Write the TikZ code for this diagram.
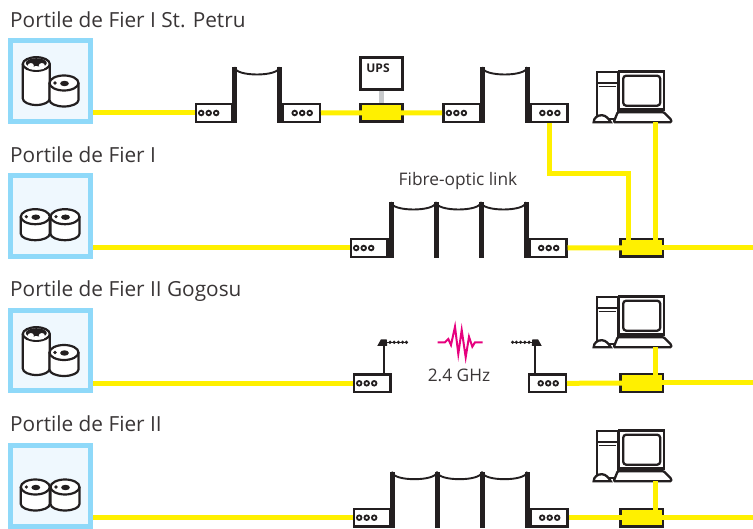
\documentclass[tikz,border=0pt]{standalone}
\usepackage{xcolor}
\usepackage{fontspec}
\setmainfont{Open Sans}
\usetikzlibrary{positioning,calc}
\definecolor{cableyellow}{HTML}{FFF000}
\definecolor{siteblue}{HTML}{8FD9F9}
\definecolor{sitefill}{HTML}{EFF8FE}
\definecolor{inkblack}{HTML}{231F20}
\definecolor{signalpink}{HTML}{E6007E}
\definecolor{upsgrey}{HTML}{C8CACC}
\tikzset{
    sitebox/.style={
        rectangle,
        draw=siteblue,
        fill=sitefill,
        line width=5pt,
        minimum size=80.5pt,
        inner sep=0pt
    },
    sitelabel/.style={
        anchor=base west,
        inner sep=0pt,
        text=inkblack!90,
        font=\fontsize{20.8}{24}\selectfont
    },
    linklabel/.style={
        anchor=base,
        inner sep=0pt,
        text=inkblack!90,
        font=\fontsize{17.3}{20}\selectfont
    },
    modem/.style={
        rectangle,
        draw=inkblack,
        fill=white,
        line width=2.4pt,
        minimum width=36.6pt,
        minimum height=17.6pt,
        inner sep=0pt,
        path picture={
            \foreach \dot in {0,1,2}
                \draw [inkblack, line width=1.8pt]
                    ([xshift=#1+\dot*7.5pt]path picture bounding box.west) circle (2.3pt);
        }
    },
    joinbox/.style={
        rectangle,
        draw=inkblack,
        fill=cableyellow,
        line width=2.5pt,
        minimum width=42.2pt,
        minimum height=17.6pt,
        inner sep=0pt
    },
    upsbox/.style={
        rectangle,
        draw=inkblack,
        fill=white,
        line width=2.5pt,
        minimum width=41.7pt,
        minimum height=32.2pt,
        inner sep=0pt
    },
    post/.style={
        rectangle,
        fill=inkblack,
        minimum width=5pt,
        minimum height=56pt,
        inner sep=0pt,
        outer sep=0pt
    },
    cable/.style={cableyellow, line width=5pt},
    span/.style={
        inkblack,
        line width=1.9pt,
        to path={.. controls ([yshift=-10pt]\tikztostart) and ([yshift=-10pt]\tikztotarget) .. (\tikztotarget)}
    },
    drum/.pic={
        \draw [inkblack, line width=2.2pt, fill=white] (-14.5,0) -- (-14.5,17)
            arc (180:360:14.5pt and 6.5pt) -- (14.5,0);
        \draw [inkblack, line width=2.2pt, fill=white] (0,0) ellipse (14.5pt and 7.5pt);
        \fill [inkblack] (-9,0) circle (1.8pt);
        \fill [inkblack] (0.5,0.5) ellipse (4.4pt and 2.7pt);
    },
    tallcan/.pic={
        \draw [inkblack, line width=2.2pt, fill=white] (-13.5,0) -- (-13.5,34.5)
            arc (180:360:13.5pt and 6.5pt) -- (13.5,0);
        \draw [inkblack, line width=2.2pt, fill=white] (0,0) ellipse (13.5pt and 6.8pt);
        \fill [inkblack] (0,-1) ellipse (10.5pt and 4.8pt);
        \fill [white] (-5.5,1.5) ellipse (3pt and 2.4pt);
        \fill [white] (5.5,1.5) ellipse (3pt and 2.4pt);
        \fill [white] (0,4) ellipse (8pt and 1.8pt);
    },
    computer/.pic={
        \draw [inkblack, line width=2.3pt, fill=white] (0,0) rectangle (21,47);
        \draw [inkblack, line width=2.3pt] (0,11.5) -- (21,11.5);
        \draw [inkblack, line width=1.2pt] (2,15) -- (19,15);
        \draw [inkblack, line width=2.5pt, fill=white] (22.5,0) rectangle (67.5,38);
        \draw [inkblack, line width=2.3pt, rounded corners=3pt] (26.5,4) rectangle (63.5,34);
        \draw [inkblack, line width=2.3pt, fill=white, rounded corners=1pt]
            (21,40.5) -- (67,40.5) -- (74.5,48) -- (74.5,50.5) -- (17,50.5) -- cycle;
        \fill [inkblack] (40,36.5) rectangle (51.5,41.5);
        \draw [inkblack, line width=2.3pt, fill=white] (-3,50.5)
            .. controls (-3,46) and (1,43.5) .. (5,43.5)
            .. controls (9,43.5) and (12,47) .. (14,50.5) -- cycle;
        \coordinate (-base) at (58.3,50.5);
    },
    antenna/.pic={
        \draw [inkblack, line width=2.2pt] (0,0) -- (0,-30);
        \fill [inkblack] (-6.7,-27.5) -- (-3,-34) -- (2.7,-34) -- (3.2,-27.5) -- cycle;
        \draw [inkblack, line width=1.2pt] (2,-31) -- (23,-31);
        \foreach \tooth in {6,10.2,14.4,18.6,22.4}
            \fill [inkblack] (\tooth,-31) circle (1.8pt);
    }
}
\begin{document}
\begin{tikzpicture}[x=1pt, y=-1pt]
    \useasboundingbox (0,0) rectangle (753,529);

    % sites
    \node (site1) [sitebox] at (50.25,81.25) {};
    \node (site2) [sitebox, below=49.5pt of site1] {};
    \node (site3) [sitebox, below=49pt of site2] {};
    \node (site4) [sitebox, below=50pt of site3] {};
    \pic at (36.3,64) {tallcan};
    \pic at (64,83) {drum};
    \pic at (35.3,216.7) {drum};
    \pic at (65,216.7) {drum};
    \pic at (36.3,334) {tallcan};
    \pic at (64,352.5) {drum};
    \pic at (35.3,487) {drum};
    \pic at (65,487) {drum};

    \node (label1) [sitelabel] at (10,28) {Portile de Fier I St. Petru};
    \node (label2) [sitelabel] at (10,162.7) {Portile de Fier I};
    \node (label3) [sitelabel] at (10,296.7) {Portile de Fier II Gogosu};
    \node (label4) [sitelabel] at (10,431.7) {Portile de Fier II};

    % row 1
    \node (modem11) [modem=5.5pt] at (214,113) {};
    \node (post11) [post, anchor=south west] at ([xshift=-1.5pt]modem11.south east) {};
    \node (post12) [post, right=40pt of post11] {};
    \node (modem12) [modem=11.5pt, anchor=south west] at (post12.south east) {};
    \node (join1) [joinbox] at (381.5,112.8) {};
    \node (ups) [upsbox, above=12pt of join1] {};
    \node (upstext) [anchor=base, inner sep=0pt, text=inkblack, font=\bfseries\fontsize{12}{14}\selectfont] at (378,72.3) {UPS};
    \node (modem13) [modem=5.5pt] at (461.7,113) {};
    \node (post13) [post, anchor=south west] at ([xshift=-1.5pt]modem13.south east) {};
    \node (post14) [post, right=40pt of post13] {};
    \node (modem14) [modem=11.5pt, anchor=south west] at (post14.south east) {};
    \pic (pc1) at (596.7,71.7) {computer};

    % row 2
    \node (modem21) [modem=5.5pt] at (369,248) {};
    \node (post21) [post, anchor=south west] at (modem21.south east) {};
    \node (post22) [post, right=40pt of post21] {};
    \node (post23) [post, right=40pt of post22] {};
    \node (post24) [post, right=40pt of post23] {};
    \node (modem22) [modem=11.5pt, anchor=south west] at (post24.south east) {};
    \node (join2) [joinbox] at (641.7,247.8) {};
    \node (fibre) [linklabel] at (458,186) {Fibre-optic link};

    % row 3
    \node (modem31) [modem=5.5pt] at (372,383.3) {};
    \node (modem32) [modem=11.5pt] at (547.5,383.3) {};
    \pic at ([xshift=12pt]modem31.north) {antenna};
    \pic [xscale=-1] at ([xshift=-12.5pt]modem32.north) {antenna};
    \node (ghz) [linklabel] at (459,381.7) {2.4 GHz};
    \draw [signalpink, line width=2pt, line join=miter]
        (437.7,342.3) -- (445,342.3) -- (448.3,339) -- (451,345) -- (455,326.7) -- (458.3,354)
        -- (461.7,330) -- (465.7,357.3) -- (469,336.7) -- (472.3,346.7) -- (475,342.3) -- (482.7,342.3);
    \node (join3) [joinbox] at (641.7,383) {};
    \pic (pc3) at (596.7,296.7) {computer};

    % row 4
    \node (modem41) [modem=5.5pt] at (372,517.7) {};
    \node (post41) [post, anchor=south west] at ([xshift=-2pt]modem41.south east) {};
    \node (post42) [post, right=40pt of post41] {};
    \node (post43) [post, right=40pt of post42] {};
    \node (post44) [post, right=40pt of post43] {};
    \node (modem42) [modem=11.5pt, anchor=south west] at (post44.south east) {};
    \node (join4) [joinbox] at (641.7,517.7) {};
    \pic (pc4) at (596.7,430.7) {computer};

    % spans
    \draw [span] (post11.north) to (post12.north);
    \draw [span] (post13.north) to (post14.north);
    \draw [span] (post21.north) to (post22.north);
    \draw [span] (post22.north) to (post23.north);
    \draw [span] (post23.north) to (post24.north);
    \draw [span] (post41.north) to (post42.north);
    \draw [span] (post42.north) to (post43.north);
    \draw [span] (post43.north) to (post44.north);

    % cables
    \coordinate (cablebend) at (628.3,173.3);
    \coordinate (edge2) at (753,247.8);
    \coordinate (edge3) at (753,383);
    \coordinate (edge4) at (753,517.7);
    \draw [upsgrey, line width=5pt] (ups.south) -- (join1.north);
    \draw [cable] (modem11.west -| site1.east) -- (modem11.west);
    \draw [cable] (modem12.east) -- (join1.center);
    \draw [cable] (join1.center) -- (modem13.west);
    \draw [cable] (modem14.south) |- (cablebend) -- (cablebend |- join2);
    \draw [cable] (pc1-base) -- (pc1-base |- join2);
    \draw [cable] (modem21.west -| site2.east) -- (modem21.west);
    \draw [cable] (modem22.east) -- (join2.center);
    \draw [cable] (join2.center) -- (edge2);
    \draw [cable] (modem31.west -| site3.east) -- (modem31.west);
    \draw [cable] (modem32.east) -- (join3.center);
    \draw [cable] (join3.center) -- (edge3);
    \draw [cable] (pc3-base) -- (pc3-base |- join3);
    \draw [cable] (modem41.west -| site4.east) -- (modem41.west);
    \draw [cable] (modem42.east) -- (join4.center);
    \draw [cable] (join4.center) -- (edge4);
    \draw [cable] (pc4-base) -- (pc4-base |- join4);
\end{tikzpicture}
\end{document}
